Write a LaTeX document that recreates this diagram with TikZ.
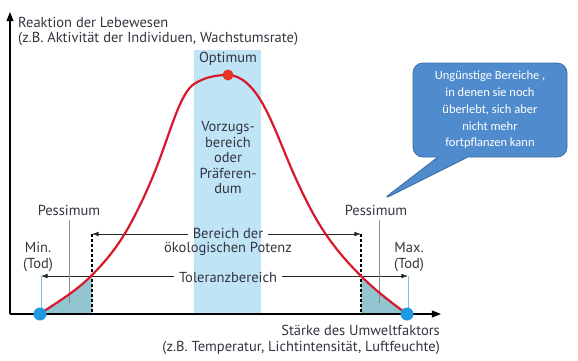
\documentclass[tikz,border=0pt]{standalone}
\usepackage{fontspec}
\setmainfont{PT Sans}
\newfontfamily\calloutfont{Carlito}
\usetikzlibrary{arrows.meta,positioning,shapes.callouts}

\definecolor{txtgrey}{HTML}{34343F}
\definecolor{bandblue}{HTML}{BFE4F6}
\definecolor{pessfill}{HTML}{92C5CF}
\definecolor{curvered}{HTML}{D7192D}
\definecolor{dotred}{HTML}{E63323}
\definecolor{dotblue}{HTML}{1E9BE0}
\definecolor{calloutblue}{HTML}{508CCD}
\definecolor{calloutedge}{HTML}{3A6EA5}

% Reaktionskurve (Minimum -> Optimum -> Maximum)
\newcommand{\bellcurve}{(40,314)
  .. controls (57,302) and (74,293) .. (91,276)
  .. controls (105,262) and (119,246) .. (133,219)
  .. controls (143,200) and (153,178) .. (163,150)
  .. controls (173,122) and (182,92) .. (194,84)
  .. controls (205,77) and (216,75) .. (228,75)
  .. controls (240,75) and (253,85) .. (265,108)
  .. controls (274,125) and (283,149) .. (292,170)
  .. controls (303,195) and (314,217) .. (325,233)
  .. controls (337,251) and (349,264) .. (361,276)
  .. controls (376,291) and (392,303) .. (407,314)}

\tikzset{
  lbl/.style={text=txtgrey,font=\fontsize{14.5}{15.5}\selectfont,inner sep=1pt},
  arr/.style={-{Latex[length=2.3mm,width=1.6mm]},line width=0.6pt,draw=black!85,
              shorten <=4pt},
  axis/.style={-{Triangle[length=3.2mm,width=2.4mm]},line width=1.4pt},
  dashline/.style={line width=1.1pt,dash pattern=on 3pt off 2pt},
  thinline/.style={line width=0.5pt,draw=black!45},
  dot/.style={circle,inner sep=0pt,minimum size=#1},
}

\begin{document}
\begin{tikzpicture}[x=1pt,y=-1pt]
  \useasboundingbox (0,0) rectangle (578,360);

  % Vorzugsbereich
  \fill[bandblue] (194,50) rectangle (261,313);

  % Pessimum-Flaechen
  \begin{scope}
    \clip (40,200) rectangle (92,314);
    \fill[pessfill] \bellcurve -- cycle;
  \end{scope}
  \begin{scope}
    \clip (361,200) rectangle (408,314);
    \fill[pessfill] \bellcurve -- cycle;
  \end{scope}

  % Achsen
  \coordinate (o) at (10,314);
  \coordinate (xend) at (441,314);
  \coordinate (yend) at (10,12);
  \draw[axis] (o) -- (xend);
  \draw[axis] (o) -- (yend);

  \node[lbl,anchor=north west,align=left] (ylab) at (17,16)
    {Reaktion der Lebewesen\\(z.B. Aktivität der Individuen, Wachstumsrate)};
  \node[lbl,anchor=north east,align=right] (xlab) at (441,324)
    {Stärke des Umweltfaktors\\(z.B. Temperatur, Lichtintensität, Luftfeuchte)};

  % Bereich der oekologischen Potenz
  \node[lbl] (bereich) at (228,233) {Bereich der};
  \node[lbl,below=2pt of bereich] (potenz) {ökologischen Potenz};
  \coordinate (potl) at (92,234);
  \coordinate (potr) at (361,234);
  \draw[arr] (bereich.west |- potl) -- (potl);
  \draw[arr] (bereich.east |- potr) -- (potr);
  \draw[dashline] (potl) -- (92,314);
  \draw[dashline] (potr) -- (361,314);

  % Toleranzbereich
  \node[lbl] (toleranz) at (228,277) {Toleranzbereich};
  \coordinate (toll) at (41,276);
  \coordinate (tolr) at (408,276);
  \draw[arr] (toleranz.west |- toll) -- (toll);
  \draw[arr] (toleranz.east |- tolr) -- (tolr);
  \draw[dotblue!60,line width=0.7pt] (toll) -- (41,314);
  \draw[dotblue!60,line width=0.7pt] (tolr) -- (408,314);

  % Pessimum
  \node[lbl] (pessl) at (69,210) {Pessimum};
  \node[lbl] (pessr) at (376,210) {Pessimum};
  \coordinate (pesslb) at (69,303);
  \coordinate (pessrb) at (379,303);
  \draw[thinline] (69,220) -- (pesslb);
  \draw[thinline] (379,220) -- (pessrb);

  \node[lbl,align=center] (mint) at (38,257) {Min.\\(Tod)};
  \node[lbl,align=center] (maxt) at (409,257) {Max.\\(Tod)};

  % Kurve
  \draw[curvered,line width=2.2pt] \bellcurve;
  \node[dot=11pt,fill=dotred] (opt) at (228,75) {};
  \node[dot=13pt,fill=dotblue] (mind) at (40,314) {};
  \node[dot=13pt,fill=dotblue] (maxd) at (407,314) {};

  % Vorzugsbereich Text
  \node[lbl] (optt) at (228,59) {Optimum};
  \node[lbl,align=center] (vorzug) at (228,158)
    {Vorzugs-\\bereich\\oder\\Präferen-\\dum};

  % Sprechblase
  \node[rectangle callout,callout absolute pointer={(382,200)},
        callout pointer width=30pt,fill=calloutblue,draw=calloutedge,
        line width=0.8pt,rounded corners=10pt,
        minimum width=154pt,minimum height=94pt,
        text=white,align=center,
        font=\calloutfont\fontsize{12.5}{16.7}\selectfont] (hinweis) at (490,110)
    {Ungünstige Bereiche ,\\in denen sie noch\\überlebt, sich aber\\nicht mehr\\fortpflanzen kann};
\end{tikzpicture}
\end{document}
